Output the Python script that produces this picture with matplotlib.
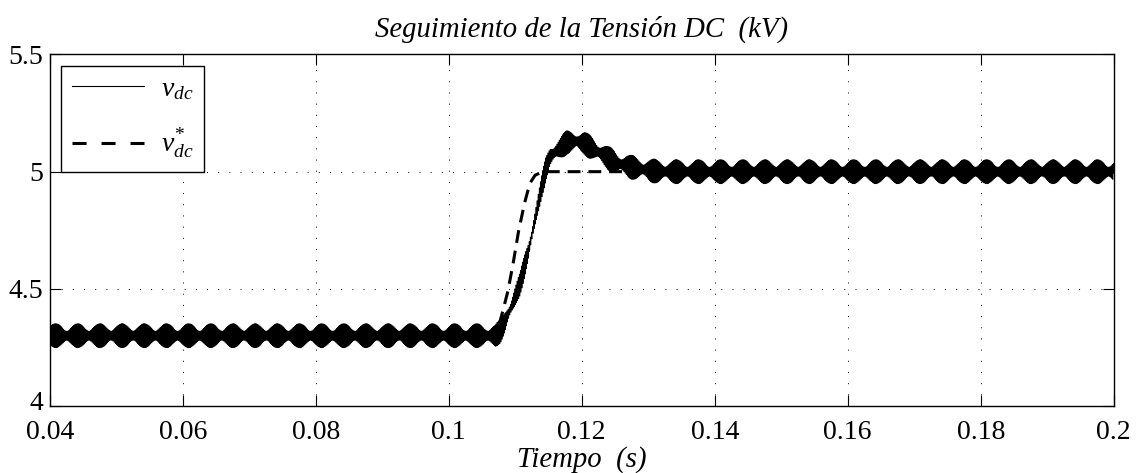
import numpy as np
import matplotlib.pyplot as plt
from matplotlib.transforms import ScaledTranslation

plt.rcParams['font.family'] = ['Liberation Serif', 'DejaVu Serif']
plt.rcParams['mathtext.fontset'] = 'custom'
plt.rcParams['mathtext.rm'] = 'Liberation Serif'
plt.rcParams['mathtext.it'] = 'Liberation Serif:italic'

# valor medio de la tension DC medida (kV)
t_vdc = [0.04, 0.1070, 0.1078, 0.1085, 0.1095, 0.1107, 0.1120, 0.1130, 0.1140,
         0.1146, 0.1152, 0.1162, 0.1178, 0.1192, 0.1204, 0.1222, 0.1238, 0.1255,
         0.1273, 0.1300, 0.1320, 0.2]
v_vdc = [4.30, 4.30, 4.32, 4.36, 4.43, 4.52, 4.66, 4.80, 4.94,
         5.01, 5.06, 5.09, 5.125, 5.13, 5.12, 5.09, 5.06, 5.035,
         5.02, 5.005, 5.00, 5.00]

# referencia de tension DC (kV)
t_ref = [0.04, 0.1068, 0.1074, 0.1080, 0.1089, 0.1097, 0.1105, 0.1114, 0.1122,
         0.1130, 0.1140, 0.1150, 0.2]
v_ref = [4.30, 4.30, 4.33, 4.39, 4.49, 4.61, 4.745, 4.865, 4.95,
         4.985, 4.998, 5.00, 5.00]

# rizado de conmutacion: dos componentes que baten a 300 Hz
f_carrier = 6000.0
f_beat = 300.0
amp_main = 0.036
amp_side = 0.016
t_lobe = 0.0409

x_ticks = [0.04, 0.06, 0.08, 0.1, 0.12, 0.14, 0.16, 0.18, 0.2]
x_labels = ['0.04', '0.06', '0.08', '0.1', '0.12', '0.14', '0.16', '0.18', '0.2']
y_ticks = [4, 4.5, 5, 5.5]
y_labels = ['4', '4.5', '5', '5.5']

t = np.linspace(0.04, 0.2, 200001)
ripple = (amp_main * np.sin(2 * np.pi * f_carrier * (t - t_lobe))
          + amp_side * np.sin(2 * np.pi * (f_carrier + f_beat) * (t - t_lobe)))
vdc = np.interp(t, t_vdc, v_vdc) + ripple

fig = plt.figure(figsize=(11.38, 4.73), dpi=100)
ax = fig.add_axes([0.04367, 0.14165, 0.93497, 0.74313])

ax.plot(t, vdc, color='black', lw=0.5, label=r'$v_{dc}$')
ax.plot(t_ref, v_ref, color='black', lw=2.2, dashes=(4.2, 2.6), label=r'$v^{*}_{dc}$')

ax.set_xlim(0.04, 0.2)
ax.set_ylim(4, 5.5)
ax.set_xticks(x_ticks)
ax.set_xticklabels(x_labels)
ax.set_yticks(y_ticks)
ax.set_yticklabels(y_labels)
ax.tick_params(direction='in', length=8, width=0.8, top=True, right=True,
               labelsize=20)
ax.tick_params(axis='x', pad=10)
ax.tick_params(axis='y', pad=5)
ax.grid(True, color='black', lw=0.7, linestyle=(0, (1, 10.5)))
for s in ax.spines.values():
    s.set_linewidth(1.0)

# el "4" del eje y se sube un poco para no pisar el "0.04"
lbl = ax.get_yticklabels()[0]
lbl.set_transform(lbl.get_transform() + ScaledTranslation(0, 4 / 72, fig.dpi_scale_trans))

ax.set_title('Seguimiento de la Tensión DC  (kV)', fontstyle='italic',
             fontsize=20.7, pad=13)
ax.set_xlabel('Tiempo  (s)', fontstyle='italic', fontsize=20.7, labelpad=1)

leg = ax.legend(loc='upper left', fontsize=20, frameon=True, fancybox=False,
                framealpha=1, edgecolor='black', borderaxespad=0.4,
                handlelength=2.6, handletextpad=0.6, labelspacing=0.9)
leg.get_frame().set_linewidth(1.0)
leg.legend_handles[0].set_linewidth(0.8)
leg.legend_handles[1].set_dashes((4.6, 4.9))

fig.savefig('out.png', dpi=100)
